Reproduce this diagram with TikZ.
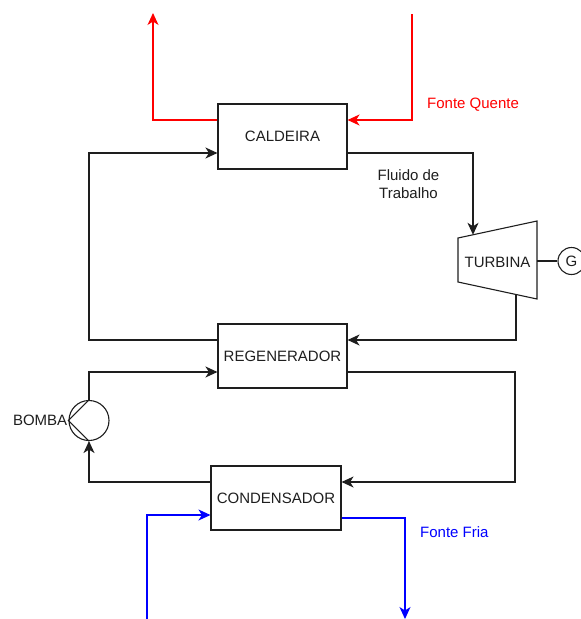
\documentclass[tikz,border=0pt]{standalone}
\usepackage{fontspec}
\setmainfont{Liberation Sans}
\usetikzlibrary{arrows.meta}
\definecolor{hotred}{RGB}{255,0,0}
\definecolor{coldblue}{RGB}{0,0,255}
\definecolor{edge}{RGB}{30,30,30}
\begin{document}
\begin{tikzpicture}[x=1pt,y=-1pt,
  every node/.style={font=\fontsize{15pt}{18pt}\selectfont, text=edge},
  unit/.style={draw=edge, line width=1.1pt, rectangle, inner sep=0pt},
  flow/.style={draw=edge, line width=1.1pt, -{Stealth[length=12pt,width=11pt,inset=3.5pt]}},
  plain/.style={draw=edge, line width=1.1pt},
  hot/.style={flow, draw=hotred, color=hotred},
  cold/.style={flow, draw=coldblue, color=coldblue}]
\useasboundingbox (0,0) rectangle (581,619);
% units
\node[unit, minimum width=129pt, minimum height=65pt] (cal) at (282.5,136.5) {CALDEIRA};
\node[unit, minimum width=129pt, minimum height=64pt] (reg) at (282.5,356) {REGENERADOR};
\node[unit, minimum width=130pt, minimum height=64pt] (con) at (276,498) {CONDENSADOR};
% turbine
\coordinate (t1) at (458,238);
\coordinate (t2) at (537,221);
\coordinate (t3) at (537,299);
\coordinate (t4) at (458,282);
\draw[plain] (t1) -- (t2) -- (t3) -- (t4) -- cycle;
\node (turb) at (497.5,262) {TURBINA};
\coordinate (turbtop) at (473,234.8);
\coordinate (turbbot) at (516,294.5);
\coordinate (turbshaft) at (537,261);
\node[draw=edge, line width=1.1pt, circle, minimum size=27pt, inner sep=0pt] (gen) at (571.5,261) {G};
\draw[plain] (turbshaft) -- (gen.west);
% pump
\node[draw=edge, line width=1.1pt, circle, minimum size=40pt, inner sep=0pt] (pump) at (89,420.5) {};
\draw[plain] (pump.north) -- (pump.west) -- (pump.south);
\node[anchor=east, inner sep=1pt] (bomba) at (pump.west) {BOMBA};
% helper coordinates
\coordinate (lx) at (89,250);
\coordinate (rx) at (515,420);
\coordinate (redtop) at (153,13);
\coordinate (redsrc) at (412,14);
\coordinate (bluesrc) at (147,619);
\coordinate (bluetip) at (405,619);
% working fluid loop
\draw[flow] ([yshift=-16.5pt]cal.east) -| (turbtop);
\draw[flow] (turbbot) |- ([yshift=16pt]reg.east);
\draw[flow] ([yshift=16pt]reg.west) -| (lx) |- ([yshift=-16.5pt]cal.west);
\draw[flow] ([yshift=-16pt]reg.east) -| (rx) |- ([yshift=16pt]con.east);
\draw[flow] ([yshift=16pt]con.west) -| (pump.south);
\draw[flow] (pump.north) |- ([yshift=-16pt]reg.west);
% hot source
\draw[hot] ([yshift=16.5pt]cal.west) -| (redtop);
\draw[hot] (redsrc) |- ([yshift=16.5pt]cal.east);
% cold source
\draw[cold] (bluesrc) |- ([yshift=-17pt]con.west);
\draw[cold] ([yshift=-20pt]con.east) -| (bluetip);
% labels
\node[anchor=west, text=hotred, inner sep=0pt] (fq) at (427,105) {Fonte Quente};
\node[anchor=west, text=coldblue, inner sep=0pt] (ff) at (420,532) {Fonte Fria};
\node[align=center, inner sep=0pt] (fluido) at (408.5,184) {Fluido de\\Trabalho};
\end{tikzpicture}
\end{document}
